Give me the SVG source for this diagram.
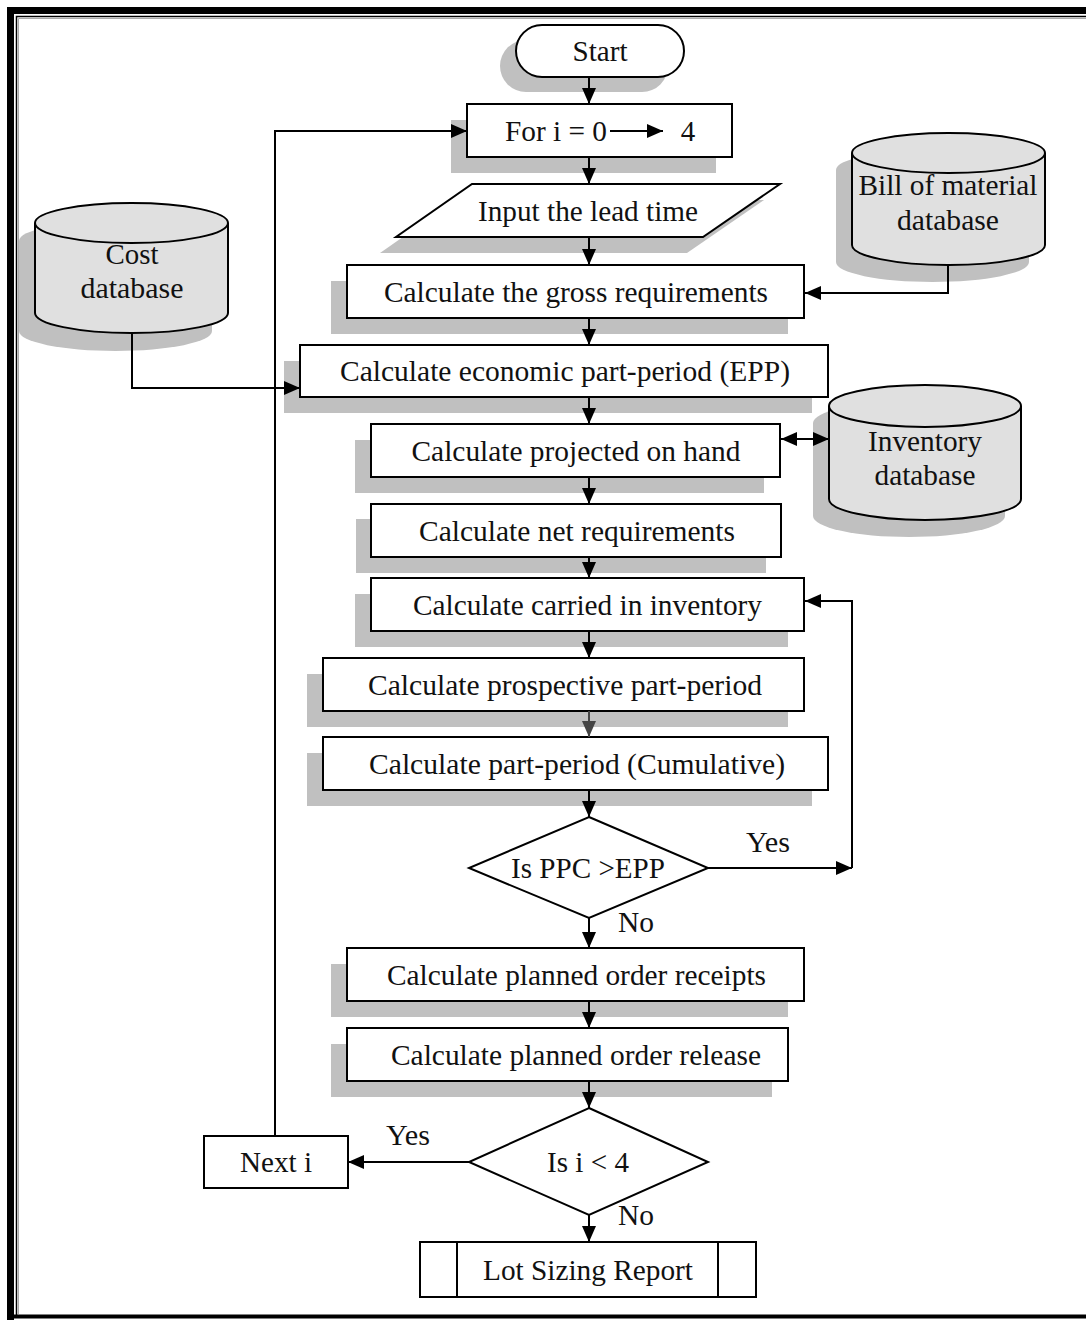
<svg xmlns="http://www.w3.org/2000/svg" width="1086" height="1320" viewBox="0 0 1086 1320">
<defs>
<marker id="ah" markerUnits="userSpaceOnUse" markerWidth="16" markerHeight="14" refX="16" refY="7" orient="auto-start-reverse"><path d="M0,0 L16,7 L0,14 Z" fill="#000"/></marker>
<marker id="ahg" markerUnits="userSpaceOnUse" markerWidth="16" markerHeight="14" refX="16" refY="7" orient="auto"><path d="M0,0 L16,7 L0,14 Z" fill="#444"/></marker>
<style>
.box{fill:#fff;stroke:#000;stroke-width:2}
.sh{fill:#c0c0c0}
.db{fill:#e0e0e0;stroke:#000;stroke-width:2}
.ln{fill:none;stroke:#000;stroke-width:2}
.arr{fill:none;stroke:#000;stroke-width:2;marker-end:url(#ah)}
text{font-family:"Liberation Serif","Times New Roman",serif;font-size:29px;fill:#111;text-anchor:middle}
</style>
</defs>
<rect width="1086" height="1320" fill="#fff"/>
<!-- frame -->
<path d="M10.5,1320 L10.5,10.5 L1086,10.5" fill="none" stroke="#000" stroke-width="7"/>
<path d="M16.5,1316 L16.5,16.5 L1086,16.5" fill="none" stroke="#000" stroke-width="1.5"/>
<path d="M18.5,1314 L18.5,18.5 L1086,18.5" fill="none" stroke="#aaa" stroke-width="1"/>
<line x1="14" y1="1316.5" x2="1086" y2="1316.5" stroke="#000" stroke-width="4"/>

<g id="start">
<rect class="sh" x="500" y="40" width="168" height="52" rx="26"/>
<rect class="box" x="516" y="25" width="168" height="52" rx="26"/>
<text x="600" y="61" textLength="55" lengthAdjust="spacingAndGlyphs">Start</text>
</g>

<g id="for-loop">
<rect class="sh" x="451" y="120" width="265" height="53"/>
<rect class="box" x="467" y="104" width="265" height="53"/>
<text x="556" y="141" textLength="102" lengthAdjust="spacingAndGlyphs">For i = 0</text>
<line x1="610" y1="131" x2="663" y2="131" stroke="#000" stroke-width="2" marker-end="url(#ah)"/>
<text x="688" y="141">4</text>
</g>

<g id="input-lead-time">
<polygon class="sh" points="456,200 764,200 687,253 380,253"/>
<polygon class="box" points="472,184 780,184 703,237 396,237"/>
<text x="588" y="221" textLength="220" lengthAdjust="spacingAndGlyphs">Input the lead time</text>
</g>

<g id="bom-db">
<path class="sh" d="M836,170 A96.5,20 0 0 1 1029,170 L1029,262 A96.5,20 0 0 1 836,262 Z"/>
<path class="db" d="M852,153 A96.5,20 0 0 1 1045,153 L1045,245 A96.5,20 0 0 1 852,245 Z"/>
<path class="ln" d="M852,153 A96.5,20 0 0 0 1045,153"/>
<text x="948" y="195" textLength="179" lengthAdjust="spacingAndGlyphs">Bill of material</text>
<text x="948" y="230" textLength="102" lengthAdjust="spacingAndGlyphs">database</text>
</g>

<g id="cost-db">
<path class="sh" d="M19,241 A96.5,20 0 0 1 212,241 L212,331 A96.5,20 0 0 1 19,331 Z"/>
<path class="db" d="M35,223 A96.5,20 0 0 1 228,223 L228,313 A96.5,20 0 0 1 35,313 Z"/>
<path class="ln" d="M35,223 A96.5,20 0 0 0 228,223"/>
<text x="132" y="264" textLength="53" lengthAdjust="spacingAndGlyphs">Cost</text>
<text x="132" y="298" textLength="103" lengthAdjust="spacingAndGlyphs">database</text>
</g>

<g id="gross-req">
<rect class="sh" x="331" y="281" width="457" height="53"/>
<rect class="box" x="347" y="265" width="457" height="53"/>
<text x="576" y="302" textLength="384" lengthAdjust="spacingAndGlyphs">Calculate the gross requirements</text>
</g>

<g id="epp">
<rect class="sh" x="284" y="361" width="528" height="52"/>
<rect class="box" x="300" y="345" width="528" height="52"/>
<text x="565" y="381" textLength="450" lengthAdjust="spacingAndGlyphs">Calculate economic part-period (EPP)</text>
</g>

<g id="projected">
<rect class="sh" x="355" y="440" width="409" height="53"/>
<rect class="box" x="371" y="424" width="409" height="53"/>
<text x="576" y="461" textLength="329" lengthAdjust="spacingAndGlyphs">Calculate projected on hand</text>
</g>

<g id="inventory-db">
<path class="sh" d="M813,423 A96,21 0 0 1 1005,423 L1005,516 A96,21 0 0 1 813,516 Z"/>
<path class="db" d="M829,406 A96,21 0 0 1 1021,406 L1021,499 A96,21 0 0 1 829,499 Z"/>
<path class="ln" d="M829,406 A96,21 0 0 0 1021,406"/>
<text x="925" y="451" textLength="114" lengthAdjust="spacingAndGlyphs">Inventory</text>
<text x="925" y="485" textLength="101" lengthAdjust="spacingAndGlyphs">database</text>
</g>

<g id="net-req">
<rect class="sh" x="356" y="519" width="410" height="54"/>
<rect class="box" x="371" y="504" width="410" height="53"/>
<text x="577" y="541" textLength="316" lengthAdjust="spacingAndGlyphs">Calculate net requirements</text>
</g>

<g id="carried">
<rect class="sh" x="355" y="594" width="433" height="53"/>
<rect class="box" x="371" y="578" width="433" height="53"/>
<text x="587.5" y="615" textLength="349" lengthAdjust="spacingAndGlyphs">Calculate carried in inventory</text>
</g>

<g id="prospective">
<rect class="sh" x="307" y="674" width="481" height="53"/>
<rect class="box" x="323" y="658" width="481" height="53"/>
<text x="565" y="695" textLength="394" lengthAdjust="spacingAndGlyphs">Calculate prospective part-period</text>
</g>

<g id="cumulative">
<rect class="sh" x="307" y="753" width="505" height="53"/>
<rect class="box" x="323" y="737" width="505" height="53"/>
<text x="577" y="774" textLength="416" lengthAdjust="spacingAndGlyphs">Calculate part-period (Cumulative)</text>
</g>

<g id="ppc-decision">
<polygon class="box" points="589,817 708,868 589,918 469,868"/>
<text x="588" y="878" textLength="154" lengthAdjust="spacingAndGlyphs">Is PPC &gt;EPP</text>
</g>

<g id="receipts">
<rect class="sh" x="331" y="964" width="457" height="53"/>
<rect class="box" x="347" y="948" width="457" height="53"/>
<text x="576.5" y="985" textLength="379" lengthAdjust="spacingAndGlyphs">Calculate planned order receipts</text>
</g>

<g id="release">
<rect class="sh" x="331" y="1044" width="441" height="53"/>
<rect class="box" x="347" y="1028" width="441" height="53"/>
<text x="576" y="1065" textLength="370" lengthAdjust="spacingAndGlyphs">Calculate planned order release</text>
</g>

<g id="i-decision">
<polygon class="box" points="589,1108 708,1162 589,1215 469,1162"/>
<text x="588" y="1172" textLength="82" lengthAdjust="spacingAndGlyphs">Is i &lt; 4</text>
</g>

<g id="next-i">
<rect class="box" x="204" y="1136" width="144" height="52"/>
<text x="276" y="1172" textLength="72" lengthAdjust="spacingAndGlyphs">Next i</text>
</g>

<g id="report">
<rect class="box" x="420" y="1242" width="336" height="55"/>
<line class="ln" x1="457" y1="1242" x2="457" y2="1297"/>
<line class="ln" x1="718" y1="1242" x2="718" y2="1297"/>
<text x="588" y="1280" textLength="210" lengthAdjust="spacingAndGlyphs">Lot Sizing Report</text>
</g>

<g id="connectors">
<line class="arr" x1="589" y1="77" x2="589" y2="104"/>
<line class="arr" x1="589" y1="157" x2="589" y2="184"/>
<line class="arr" x1="589" y1="237" x2="589" y2="265"/>
<line class="arr" x1="589" y1="318" x2="589" y2="345"/>
<line class="arr" x1="589" y1="397" x2="589" y2="424"/>
<line class="arr" x1="589" y1="477" x2="589" y2="504"/>
<line class="arr" x1="589" y1="557" x2="589" y2="578"/>
<line class="arr" x1="589" y1="631" x2="589" y2="658"/>
<line x1="589" y1="711" x2="589" y2="737" stroke="#444" stroke-width="2" marker-end="url(#ahg)"/>
<line class="arr" x1="589" y1="790" x2="589" y2="817"/>
<line class="arr" x1="589" y1="918" x2="589" y2="948"/>
<line class="arr" x1="589" y1="1001" x2="589" y2="1028"/>
<line class="arr" x1="589" y1="1081" x2="589" y2="1108"/>
<line class="arr" x1="589" y1="1215" x2="589" y2="1242"/>
<polyline class="arr" points="948,265 948,293 805,293"/>
<polyline class="arr" points="132,333 132,388 300,388"/>
<line class="ln" x1="781" y1="439" x2="829" y2="439" marker-start="url(#ah)" marker-end="url(#ah)"/>
<polyline class="arr" points="708,868 852,868"/>
<polyline class="arr" points="852,868 852,601 805,601"/>
<polyline class="arr" points="469,1162 348,1162"/>
<polyline class="arr" points="275,1136 275,131 467,131"/>
<text x="768" y="852" textLength="44" lengthAdjust="spacingAndGlyphs">Yes</text>
<text x="636" y="932" textLength="36" lengthAdjust="spacingAndGlyphs">No</text>
<text x="408" y="1145" textLength="44" lengthAdjust="spacingAndGlyphs">Yes</text>
<text x="636" y="1225" textLength="36" lengthAdjust="spacingAndGlyphs">No</text>
</g>
</svg>
